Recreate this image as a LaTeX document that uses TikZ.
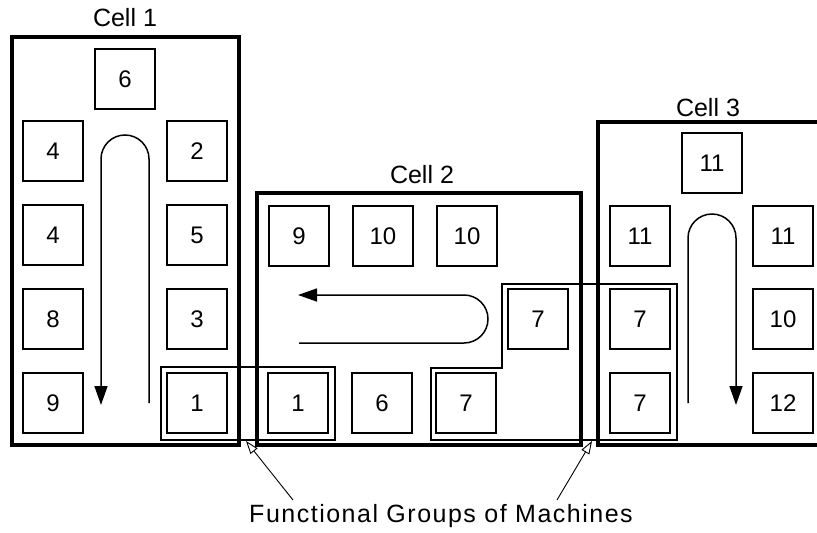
\documentclass[tikz,border=0pt]{standalone}
\usepackage{fontspec}
\setmainfont{Liberation Sans}
\usetikzlibrary{arrows.meta}
\begin{document}
\begin{tikzpicture}[x=1pt,y=-1pt,
  machine/.style={draw,line width=1.5pt,minimum size=60pt,inner sep=0pt,
    font=\fontsize{24}{28}\selectfont},
  cellborder/.style={line width=3.2pt},
  celllabel/.style={inner sep=0pt,font=\fontsize{25}{30}\selectfont},
  groupframe/.style={line width=1.5pt},
  flow/.style={line width=1.5pt,-{Triangle[length=19pt,width=13pt]}},
  pointer/.style={line width=0.9pt,-{Triangle[open,length=13pt,width=9pt,line width=0.9pt]}}]
\useasboundingbox (0,0) rectangle (817,533);

% cell borders
\draw[cellborder] (12,37) rectangle (239,445);
\draw[cellborder] (257,193) rectangle (581,445);
\draw[cellborder] (819,122) -- (598,122) -- (598,445) -- (819,445);

% cell labels
\node[celllabel] (lab1) at (125,18) {Cell 1};
\node[celllabel] (lab2) at (422,175) {Cell 2};
\node[celllabel] (lab3) at (708,108) {Cell 3};

% group frames
\draw[groupframe] (161,367) rectangle (335,440);
\draw[groupframe] (431,368) -- (502,368) -- (502,284) -- (677,284) -- (677,440) -- (431,440) -- cycle;

% Cell 1 machines
\node[machine] (a6)  at (125,79)  {6};
\node[machine] (a4a) at (53,151)  {4};
\node[machine] (a2)  at (197,151) {2};
\node[machine] (a4b) at (53,235)  {4};
\node[machine] (a5)  at (197,235) {5};
\node[machine] (a8)  at (53,319)  {8};
\node[machine] (a3)  at (197,319) {3};
\node[machine] (a9)  at (53,403)  {9};
\node[machine] (a1)  at (197,403) {1};

% Cell 2 machines
\node[machine] (b9)   at (299,236) {9};
\node[machine] (b10a) at (383,236) {10};
\node[machine] (b10b) at (467,236) {10};
\node[machine] (b7a)  at (538,319) {7};
\node[machine] (b1)   at (298,403) {1};
\node[machine] (b6)   at (382,403) {6};
\node[machine] (b7b)  at (466,403) {7};

% Cell 3 machines
\node[machine] (c11a) at (712,163) {11};
\node[machine] (c11b) at (640,236) {11};
\node[machine] (c11c) at (783,236) {11};
\node[machine] (c7a)  at (640,319) {7};
\node[machine] (c10)  at (783,319) {10};
\node[machine] (c7b)  at (640,403) {7};
\node[machine] (c12)  at (783,403) {12};

% flow arrows
\coordinate (f1s) at (149,403);
\coordinate (f1t) at (149,159);
\coordinate (f1e) at (101,405);
\draw[flow] (f1s) -- (f1t) arc[start angle=0,end angle=180,radius=24pt] -- (f1e);

\coordinate (f2s) at (299,343);
\coordinate (f2t) at (464,343);
\coordinate (f2e) at (298,295);
\draw[flow] (f2s) -- (f2t) arc[start angle=-90,end angle=90,radius=24pt] -- (f2e);

\coordinate (f3s) at (688,403);
\coordinate (f3t) at (688,238);
\coordinate (f3e) at (736,405);
\draw[flow] (f3s) -- (f3t) arc[start angle=180,end angle=0,radius=24pt] -- (f3e);

% label and pointers
\node[inner sep=0pt,font=\fontsize{25}{30}\selectfont\addfontfeature{LetterSpace=6}] (fg) at (441,516) {Functional Groups of Machines};
\coordinate (p1s) at (293,500);
\coordinate (p1e) at (246,441);
\coordinate (p2s) at (557,500);
\coordinate (p2e) at (592,441);
\draw[pointer] (p1s) -- (p1e);
\draw[pointer] (p2s) -- (p2e);
\end{tikzpicture}
\end{document}
